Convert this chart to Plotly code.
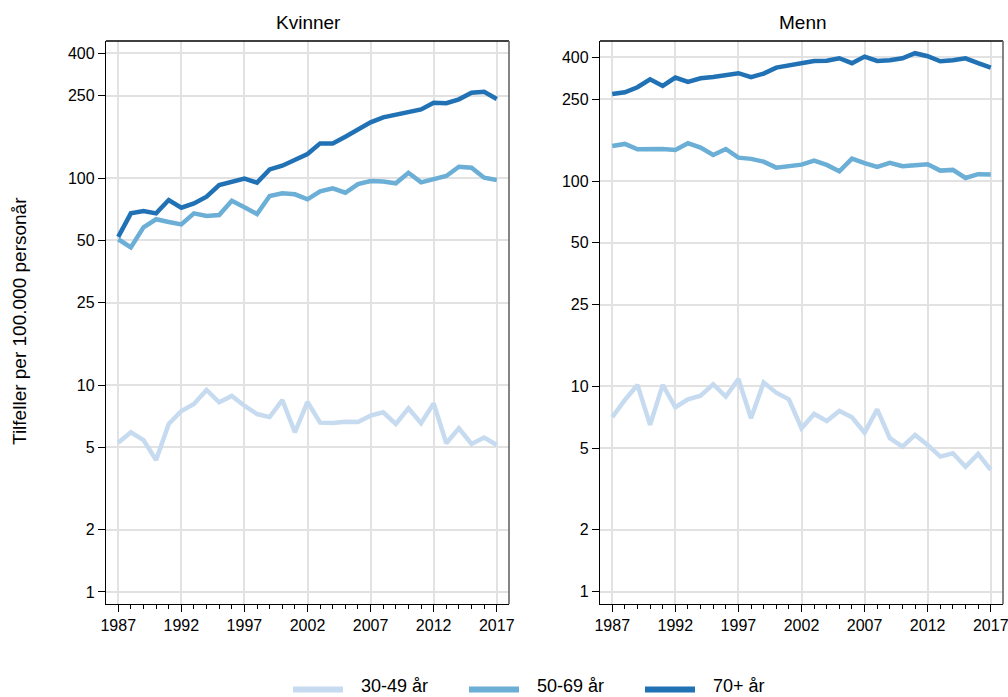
import plotly.graph_objects as go
from plotly.subplots import make_subplots

# Incidence per 100,000 person-years, 1987-2017
years = list(range(1987, 2018))

kvinner_30_49 = [5.26, 5.91, 5.42, 4.34, 6.48, 7.49, 8.09, 9.46, 8.25, 8.85, 7.94, 7.24, 7.00, 8.46, 5.91,
                 8.28, 6.58, 6.55, 6.65, 6.63, 7.11, 7.38, 6.48, 7.71, 6.53, 8.15, 5.23, 6.18, 5.19, 5.57, 5.13]
kvinner_50_69 = [50.6, 46.2, 57.8, 63.2, 61.3, 59.7, 67.5, 65.5, 66.2, 77.7, 72.2, 67.0, 81.8, 84.3, 83.4,
                 78.9, 86.2, 89.2, 84.9, 93.5, 96.7, 96.3, 94.3, 106.0, 95.3, 98.9, 102.3, 113.4, 112.1, 100.3, 97.8]
kvinner_70 = [52.0, 67.5, 69.3, 67.5, 78.3, 71.9, 75.4, 81.2, 92.5, 96.0, 99.3, 95.0, 110.0, 114.7, 123.0,
              130.6, 147.0, 147.0, 158.4, 172.5, 185.8, 196.5, 203.0, 209.0, 214.6, 231.0, 230.0, 240.0, 258.0, 261.0, 240.8]

menn_30_49 = [7.07, 8.58, 10.16, 6.49, 10.16, 7.91, 8.65, 9.01, 10.24, 8.91, 10.86, 6.99, 10.43, 9.32, 8.65,
              6.25, 7.34, 6.78, 7.59, 7.07, 5.95, 7.73, 5.59, 5.09, 5.80, 5.18, 4.55, 4.72, 4.06, 4.69, 3.92]
menn_50_69 = [148.2, 151.6, 142.8, 143.2, 143.2, 141.8, 152.8, 145.4, 134.0, 143.2, 130.0, 128.2, 124.3, 116.2, 117.5,
              120.2, 125.7, 119.8, 111.6, 128.6, 122.1, 117.2, 122.5, 118.0, 119.4, 120.7, 112.4, 113.3, 103.5, 108.0, 107.6]
menn_70 = [265.6, 270.7, 286.3, 313.2, 290.5, 319.0, 303.9, 316.7, 321.4, 326.1, 335.0, 320.3, 333.6, 356.7, 366.4,
           373.0, 384.6, 385.0, 396.3, 375.0, 403.6, 384.6, 387.6, 396.0, 419.3, 405.5, 383.3, 387.6, 396.0, 375.0, 356.7]

age_groups = ["30-49 år", "50-69 år", "70+ år"]
panel_titles = ["Kvinner", "Menn"]
y_tickvals = [1, 2, 5, 10, 25, 50, 100, 250, 400]
x_tickvals = [1987, 1992, 1997, 2002, 2007, 2012, 2017]
y_title = "Tilfeller per 100.000 personår"

colors = ["#c6dbef", "#6baed6", "#2171b5"]
FONT = "Liberation Sans, Arial, sans-serif"
W, H = 1008, 697

fig = make_subplots(rows=1, cols=2, horizontal_spacing=0.0)

panels = [
    (1, [kvinner_30_49, kvinner_50_69, kvinner_70]),
    (2, [menn_30_49, menn_50_69, menn_70]),
]
for col, series in panels:
    for name, vals, c in zip(age_groups, series, colors):
        fig.add_trace(go.Scatter(x=years, y=vals, mode="lines", name=name,
                                 line=dict(color=c, width=4.5), showlegend=False,
                                 hoverinfo="x+y+name"), row=1, col=col)

# panel geometry in pixels
x_domains = [(106, 509), (600, 1003)]
y_top, y_bot = 41, 604
y_ranges = [(-0.058, 2.662), (-0.060, 2.682)]

for i, col in enumerate([1, 2]):
    x0, x1 = x_domains[i]
    fig.update_xaxes(row=1, col=col,
                     domain=[x0 / W, x1 / W], range=[1986.03, 2017.97],
                     tickvals=x_tickvals, ticktext=[str(v) for v in x_tickvals],
                     ticks="outside", ticklen=7, tickwidth=1.2, tickcolor="black",
                     minor=dict(tick0=1987, dtick=1, ticks="outside", ticklen=4,
                                tickwidth=1.2, tickcolor="black", showgrid=False),
                     showgrid=True, gridcolor="#e2e2e2", gridwidth=1.5,
                     showline=True, linecolor="black", linewidth=1.3,
                     zeroline=False, automargin=False, ticklabeloverflow="allow",
                     tickfont=dict(family=FONT, size=16, color="black"))
    fig.update_yaxes(row=1, col=col, type="log",
                     domain=[1 - y_bot / H, 1 - y_top / H], range=list(y_ranges[i]),
                     tickvals=y_tickvals, ticktext=[str(v) for v in y_tickvals],
                     ticks="outside", ticklen=7, tickwidth=1.2, tickcolor="black",
                     showgrid=True, gridcolor="#e2e2e2", gridwidth=1.5,
                     showline=True, linecolor="black", linewidth=1.3,
                     zeroline=False, automargin=False, ticklabeloverflow="allow",
                     tickfont=dict(family=FONT, size=16, color="black"))

    xd = "x domain" if col == 1 else "x2 domain"
    yd = "y domain" if col == 1 else "y2 domain"
    # top and right edges of the plot frame
    fig.add_shape(type="line", xref=xd, yref=yd, x0=0, x1=1, y0=1, y1=1,
                  line=dict(color="black", width=1.3))
    fig.add_shape(type="line", xref=xd, yref=yd, x0=1, x1=1, y0=0, y1=1,
                  line=dict(color="#666666", width=1.6))

    # panel title
    fig.add_annotation(text=panel_titles[i], xref="paper", yref="paper",
                       x=((x0 + x1) / 2 + 1) / W, y=1 - 22 / H,
                       xanchor="center", yanchor="middle", showarrow=False,
                       font=dict(family=FONT, size=19, color="black"))

# shared y title
fig.add_annotation(text=y_title, xref="paper", yref="paper",
                   x=19 / W, y=1 - 321 / H, textangle=-90,
                   xanchor="center", yanchor="middle", showarrow=False,
                   font=dict(family=FONT, size=19, color="black"))

# legend keys along the bottom
legend_x = [293, 469, 645]
for lx, name, c in zip(legend_x, age_groups, colors):
    fig.add_shape(type="line", xref="paper", yref="paper",
                  x0=lx / W, x1=(lx + 50) / W, y0=1 - 689.5 / H, y1=1 - 689.5 / H,
                  line=dict(color=c, width=6))
    fig.add_annotation(text=name, xref="paper", yref="paper",
                       x=(lx + 66) / W, y=1 - 685.5 / H,
                       xanchor="left", yanchor="middle", showarrow=False,
                       font=dict(family=FONT, size=18, color="black"))

fig.update_layout(width=W, height=H, margin=dict(l=0, r=0, t=0, b=0),
                  paper_bgcolor="white", plot_bgcolor="white",
                  showlegend=False, font=dict(family=FONT, color="black"))

fig.write_html("out.html")
